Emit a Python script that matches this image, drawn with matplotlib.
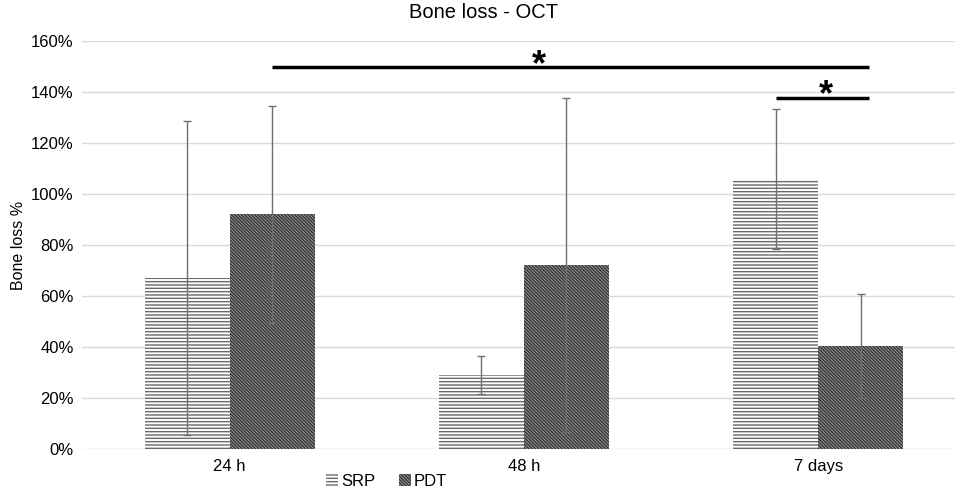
import matplotlib
matplotlib.use("Agg")
import matplotlib.pyplot as plt
import numpy as np
from matplotlib.patches import Patch

plt.rcParams['font.family'] = ['Liberation Sans', 'DejaVu Sans']
plt.rcParams['hatch.linewidth'] = 1.0

categories = ["24 h", "48 h", "7 days"]
srp_mean = [67, 29, 106]
srp_err = [61.6, 7.6, 27.5]
pdt_mean = [92, 72, 40.5]
pdt_err = [42.5, 65.5, 20.4]
yticks = [0, 20, 40, 60, 80, 100, 120, 140, 160]

SRP_HATCH = '-----'
PDT_HATCH = '\\' * 10

fig = plt.figure(figsize=(9.55, 4.93), dpi=100)
ax = fig.add_axes([0.0859, 0.0892, 0.9141, 0.8276])

x = np.arange(len(categories))
w = 0.289
ax.bar(x - w / 2, srp_mean, w, facecolor='white', edgecolor='#6a6a6a',
       hatch=SRP_HATCH, linewidth=0, zorder=2, label='SRP')
ax.bar(x + w / 2, pdt_mean, w, facecolor='#969696', edgecolor='#353535',
       hatch=PDT_HATCH, linewidth=0, zorder=2, label='PDT')
ax.errorbar(x - w / 2, srp_mean, yerr=srp_err, fmt='none', ecolor='#707070',
            elinewidth=1, capsize=3, capthick=1, zorder=3)
ax.errorbar(x + w / 2, pdt_mean, yerr=pdt_err, fmt='none', ecolor='#707070',
            elinewidth=1, capsize=3, capthick=1, zorder=3)

# significance annotations
ax.plot([0 + w / 2, 2.173], [150, 150], color='black', lw=2.5, zorder=4,
        solid_capstyle='butt')
ax.text(1.052, 143.5, '*', ha='center', va='bottom', fontsize=26,
        fontweight='bold', zorder=4)
ax.plot([2 - w / 2, 2.173], [137.7, 137.7], color='black', lw=2.5, zorder=4,
        solid_capstyle='butt')
ax.text(2.025, 131.6, '*', ha='center', va='bottom', fontsize=26,
        fontweight='bold', zorder=4)

ax.set_xlim(-0.502, 2.465)
ax.set_ylim(0, 160)
ax.set_yticks(yticks)
ax.set_yticklabels([f"{v}%" for v in yticks], fontsize=12)
ax.set_xticks(x)
ax.set_xticklabels(categories, fontsize=12)
ax.tick_params(length=0, pad=6)
ax.tick_params(axis='x', pad=7)
ax.yaxis.grid(True, color='#d9d9d9', lw=1)
ax.set_axisbelow(True)
for s in ax.spines.values():
    s.set_visible(False)
ax.set_ylabel('Bone loss %', fontsize=11.5)
ax.yaxis.set_label_coords(-0.064, 0.5)
fig.text(0.506, 0.975, 'Bone loss - OCT', ha='center', va='center', fontsize=14.5)

handles = [Patch(facecolor='white', edgecolor='#6a6a6a', hatch=SRP_HATCH, linewidth=0),
           Patch(facecolor='#969696', edgecolor='#353535', hatch=PDT_HATCH, linewidth=0)]
fig.legend(handles, ['SRP', 'PDT'], loc='center', bbox_to_anchor=(0.405, 0.024),
           ncol=2, frameon=False, fontsize=12, handlelength=0.7, handleheight=0.7,
           handletextpad=0.2, columnspacing=1.4)

fig.savefig('out.png', dpi=100)
